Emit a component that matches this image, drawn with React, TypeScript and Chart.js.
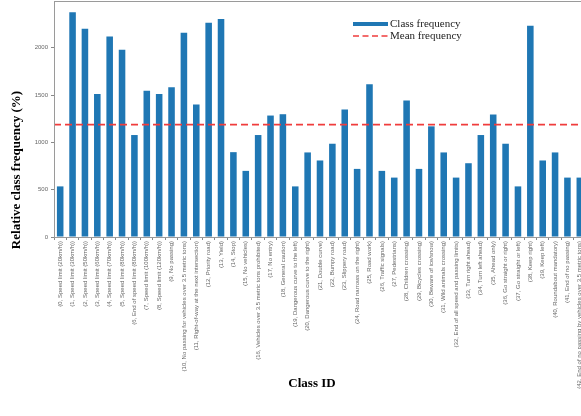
import React, { useEffect, useRef } from "react";
import { Chart, registerables } from "chart.js";

Chart.register(...registerables);

const CLASS_NAMES = [
  "Speed limit (20km/h)",
  "Speed limit (30km/h)",
  "Speed limit (50km/h)",
  "Speed limit (60km/h)",
  "Speed limit (70km/h)",
  "Speed limit (80km/h)",
  "End of speed limit (80km/h)",
  "Speed limit (100km/h)",
  "Speed limit (120km/h)",
  "No passing",
  "No passing for vehicles over 3.5 metric tons",
  "Right-of-way at the next intersection",
  "Priority road",
  "Yield",
  "Stop",
  "No vehicles",
  "Vehicles over 3.5 metric tons prohibited",
  "No entry",
  "General caution",
  "Dangerous curve to the left",
  "Dangerous curve to the right",
  "Double curve",
  "Bumpy road",
  "Slippery road",
  "Road narrows on the right",
  "Road work",
  "Traffic signals",
  "Pedestrians",
  "Children crossing",
  "Bicycles crossing",
  "Beware of ice/snow",
  "Wild animals crossing",
  "End of all speed and passing limits",
  "Turn right ahead",
  "Turn left ahead",
  "Ahead only",
  "Go straight or right",
  "Go straight or left",
  "Keep right",
  "Keep left",
  "Roundabout mandatory",
  "End of no passing",
  "End of no passing by vehicles over 3.5 metric tons",
];

const CLASS_LABELS = CLASS_NAMES.map((n, i) => `(${i}, ${n})`);

const CLASS_FREQUENCY = [
  535, 2376, 2202, 1511, 2120, 1979, 1078, 1546, 1511, 1582,
  2160, 1401, 2266, 2305, 897, 699, 1078, 1284, 1298, 535,
  894, 809, 986, 1348, 720, 1614, 699, 628, 1444, 720,
  1170, 894, 628, 780, 1078, 1295, 986, 535, 2234, 809,
  894, 628, 628,
];

const MEAN_FREQUENCY = 1188;
const Y_TICKS = [0, 500, 1000, 1500, 2000];
const Y_MAX = 2495;

const BAR_COLOR = "#1f77b4";
const MEAN_COLOR = "#f03c3c";

const overlayPlugin = {
  id: "overlay",
  afterDatasetsDraw(chart: any) {
    const { ctx, chartArea, scales } = chart;
    const y = scales.y.getPixelForValue(MEAN_FREQUENCY);
    ctx.save();
    ctx.beginPath();
    ctx.rect(chartArea.left, chartArea.top, chartArea.right - chartArea.left, chartArea.bottom - chartArea.top);
    ctx.clip();
    ctx.strokeStyle = MEAN_COLOR;
    ctx.lineWidth = 1.6;
    ctx.setLineDash([7, 4]);
    ctx.beginPath();
    ctx.moveTo(chartArea.left, y);
    ctx.lineTo(chartArea.right, y);
    ctx.stroke();
    ctx.restore();
  },
  afterDraw(chart: any) {
    const { ctx, chartArea } = chart;
    ctx.save();
    // frame
    ctx.strokeStyle = "#9a9a9a";
    ctx.lineWidth = 1;
    ctx.strokeRect(
      Math.round(chartArea.left) + 0.5,
      Math.round(chartArea.top) + 0.5,
      chartArea.right - chartArea.left,
      chartArea.bottom - chartArea.top
    );
    // legend
    ctx.lineWidth = 4;
    ctx.strokeStyle = BAR_COLOR;
    ctx.beginPath();
    ctx.moveTo(353, 24);
    ctx.lineTo(388, 24);
    ctx.stroke();
    ctx.lineWidth = 1.6;
    ctx.strokeStyle = MEAN_COLOR;
    ctx.setLineDash([6, 3.5]);
    ctx.beginPath();
    ctx.moveTo(353, 36);
    ctx.lineTo(388, 36);
    ctx.stroke();
    ctx.setLineDash([]);
    ctx.fillStyle = "#222";
    ctx.font = "11px 'Liberation Serif', serif";
    ctx.textAlign = "left";
    ctx.textBaseline = "middle";
    ctx.fillText("Class frequency", 390, 24);
    ctx.fillText("Mean frequency", 390, 36);
    // axis titles
    ctx.fillStyle = "#000";
    ctx.font = "bold 13px 'Liberation Serif', serif";
    ctx.textAlign = "center";
    ctx.fillText("Class ID", 312, 384);
    ctx.translate(17, 170);
    ctx.rotate(-Math.PI / 2);
    ctx.fillText("Relative class frequency (%)", 0, 0);
    ctx.restore();
  },
};

export default function App() {
  const ref = useRef<HTMLCanvasElement | null>(null);
  useEffect(() => {
    if (!ref.current) return;
    const chart = new Chart(ref.current, {
      type: "bar",
      data: {
        labels: CLASS_LABELS,
        datasets: [
          {
            label: "Class frequency",
            data: CLASS_FREQUENCY,
            backgroundColor: BAR_COLOR,
            barPercentage: 0.53,
            categoryPercentage: 1,
          },
        ],
      },
      options: {
        responsive: false,
        animation: false,
        layout: { padding: { top: 1, right: 14, left: 0, bottom: 0 } },
        plugins: { legend: { display: false }, tooltip: { enabled: false } },
        scales: {
          x: {
            ticks: {
              minRotation: 90,
              maxRotation: 90,
              autoSkip: false,
              padding: 1,
              color: "#666",
              font: { size: 6, family: "'Liberation Sans', Arial, sans-serif" },
            },
            grid: { drawOnChartArea: false, tickLength: 3, color: "#888" },
            border: { color: "#9a9a9a" },
            afterFit: (s: any) => {
              s.height = 179;
              s.paddingLeft = 0;
              s.paddingRight = 0;
            },
          },
          y: {
            min: 0,
            max: Y_MAX,
            afterBuildTicks: (s: any) => {
              s.ticks = Y_TICKS.map((v) => ({ value: v }));
            },
            ticks: {
              padding: 3,
              color: "#666",
              font: { size: 6, family: "'Liberation Sans', Arial, sans-serif" },
              callback: (v: any) => String(v),
            },
            grid: { drawOnChartArea: false, tickLength: 3, color: "#888" },
            border: { color: "#9a9a9a" },
            afterFit: (s: any) => {
              s.width = 54;
              s.paddingTop = 0;
              s.paddingBottom = 0;
            },
          },
        },
      },
      plugins: [overlayPlugin],
    });
    return () => chart.destroy();
  }, []);
  return (
    <div
      style={{
        position: "fixed",
        left: 0,
        top: 0,
        width: 581,
        height: 416,
        overflow: "hidden",
        background: "#fff",
      }}
    >
      <canvas ref={ref} width={600} height={416} style={{ width: 600, height: 416 }} />
    </div>
  );
}
